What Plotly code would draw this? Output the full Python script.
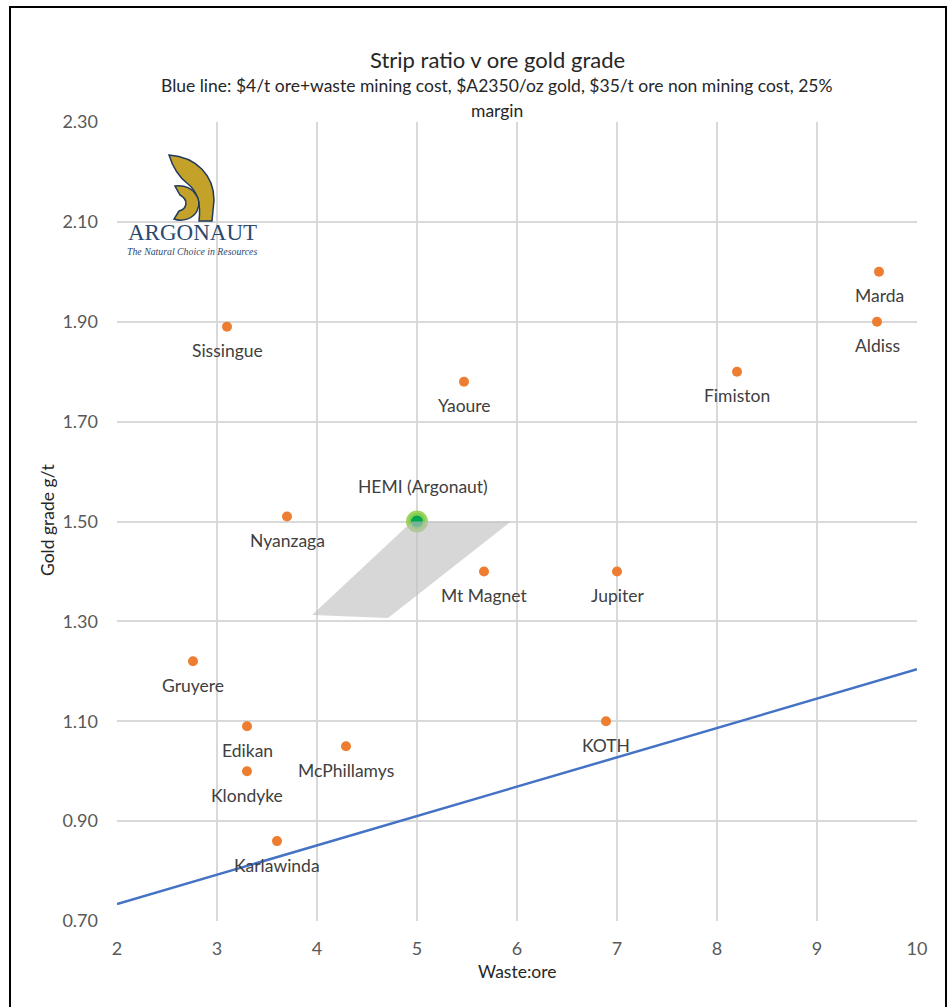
import plotly.graph_objects as go

# ---- data ----
mine_names = ["Sissingue", "Yaoure", "Fimiston", "Marda", "Aldiss", "Nyanzaga",
              "Mt Magnet", "Jupiter", "Gruyere", "Edikan", "Klondyke",
              "McPhillamys", "KOTH", "Karlawinda"]
strip_ratio = [3.10, 5.47, 8.20, 9.62, 9.60, 3.70, 5.67, 7.00, 2.76, 3.30, 3.30, 4.29, 6.89, 3.60]
gold_grade = [1.89, 1.78, 1.80, 2.00, 1.90, 1.51, 1.40, 1.40, 1.22, 1.09, 1.00, 1.05, 1.10, 0.86]

hemi_name = "HEMI (Argonaut)"
hemi_sr = [5.0]
hemi_grade = [1.50]

breakeven_sr = [2, 10]
breakeven_grade = [0.734, 1.204]

range_sr = [4.95, 5.94, 4.71, 3.95, 4.95]
range_grade = [1.50, 1.50, 1.307, 1.313, 1.50]

x_ticks = [2, 3, 4, 5, 6, 7, 8, 9, 10]
y_ticks = [0.70, 0.90, 1.10, 1.30, 1.50, 1.70, 1.90, 2.10, 2.30]

W, H = 952, 1007
L, R, T, B = 117, 917, 122, 921  # plot area in page pixels

def px(x):
    return (x - L) / (R - L)

def py(y):
    return (B - y) / (B - T)

FONT = "Lato"
TXT = "#404040"

fig = go.Figure()

fig.add_trace(go.Scatter(x=breakeven_sr, y=breakeven_grade, mode="lines",
                         line=dict(color="#4472c4", width=2.5), hoverinfo="skip"))
fig.add_trace(go.Scatter(x=strip_ratio, y=gold_grade, mode="markers",
                         marker=dict(color="#ed7d31", size=10), text=mine_names))
fig.add_trace(go.Scatter(x=hemi_sr, y=hemi_grade, mode="markers",
                         marker=dict(color="#00a651", size=17,
                                     line=dict(color="rgba(146,208,80,0.9)", width=5))))
fig.add_trace(go.Scatter(x=range_sr, y=range_grade, mode="lines", fill="toself",
                         fillcolor="rgba(190,190,190,0.62)", line=dict(width=0),
                         hoverinfo="skip"))

annotations = []
for n, x, y in zip(mine_names, strip_ratio, gold_grade):
    annotations.append(dict(x=x, y=y, xref="x", yref="y", text=n, showarrow=False,
                            xanchor="center", yanchor="middle",
                            yshift=-24, font=dict(family=FONT, size=17.5, color=TXT)))
annotations.append(dict(x=hemi_sr[0], y=hemi_grade[0], xref="x", yref="y", text=hemi_name,
                        showarrow=False, yshift=35, xshift=6, xanchor="center", yanchor="middle",
                        font=dict(family=FONT, size=17.5, color=TXT)))

def pa(x, y, text, size, color="#262626", family=FONT, **kw):
    return dict(x=px(x), y=py(y), xref="paper", yref="paper", text=text, showarrow=False,
                xanchor="center", yanchor="middle", font=dict(family=family, size=size, color=color), **kw)

annotations += [
    pa(497, 60, "Strip ratio v ore gold grade", 22),
    pa(497, 85, "Blue line: $4/t ore+waste mining cost, $A2350/oz gold, $35/t ore non mining cost, 25%", 17.5),
    pa(497, 110, "margin", 17.5),
    pa(47, 520, "Gold grade g/t", 17.5, textangle=-90),
    pa(517, 971, "Waste:ore", 17.5),
    pa(192, 233, "ARGONAUT", 23, color="#2b4a6e", family="Liberation Serif"),
    pa(192, 251, "<i>The Natural Choice in Resources</i>", 9.8, color="#2b4a6e", family="Liberation Serif"),
]

def path(points_cmds):
    out = []
    for cmd in points_cmds:
        if isinstance(cmd, str):
            out.append(cmd)
        else:
            out.append(f"{px(cmd[0]):.5f},{py(cmd[1]):.5f}")
    return " ".join(out)

helmet_outer = path(["M", (169, 155), "C", (197, 157), (214, 176), (214, 200),
                     "L", (212, 221), "L", (199, 221),
                     "C", (201, 205), (198, 192), (188, 184),
                     "C", (180, 178), (173, 168), (169, 155), "Z"])
helmet_face = path(["M", (175, 186), "C", (193, 184), (203, 199), (197, 211),
                    "C", (193, 219), (182, 222), (174, 219),
                    "L", (179, 211), "C", (187, 209), (189, 200), (180, 195), "Z"])

shapes = [
    dict(type="rect", xref="paper", yref="paper", x0=px(10), x1=px(946), y0=py(1012), y1=py(7),
         line=dict(color="black", width=2), fillcolor="rgba(0,0,0,0)", layer="above"),
    dict(type="path", xref="paper", yref="paper", path=helmet_outer,
         fillcolor="#c4a22a", line=dict(color="#1f3a5f", width=1.5), layer="above"),
    dict(type="path", xref="paper", yref="paper", path=helmet_face,
         fillcolor="#c4a22a", line=dict(color="#1f3a5f", width=1.5), layer="above"),
]

fig.update_layout(
    width=W, height=H,
    margin=dict(l=L, r=W - R, t=T, b=H - B),
    paper_bgcolor="white", plot_bgcolor="white",
    showlegend=False,
    annotations=annotations,
    shapes=shapes,
    xaxis=dict(range=[2, 10], tickvals=x_ticks, showgrid=True, gridcolor="#d9d9d9", gridwidth=2,
               zeroline=False, showline=False, ticks="", ticklabelstandoff=15,
               tickfont=dict(family=FONT, size=18, color="#595959"), fixedrange=True),
    yaxis=dict(range=[0.70, 2.30], tickvals=y_ticks, tickformat=".2f", showgrid=True,
               gridcolor="#d9d9d9", gridwidth=2, zeroline=False, showline=False, ticks="",
               ticklabelstandoff=18,
               tickfont=dict(family=FONT, size=18, color="#595959"), fixedrange=True),
)

fig.write_html("out.html")
